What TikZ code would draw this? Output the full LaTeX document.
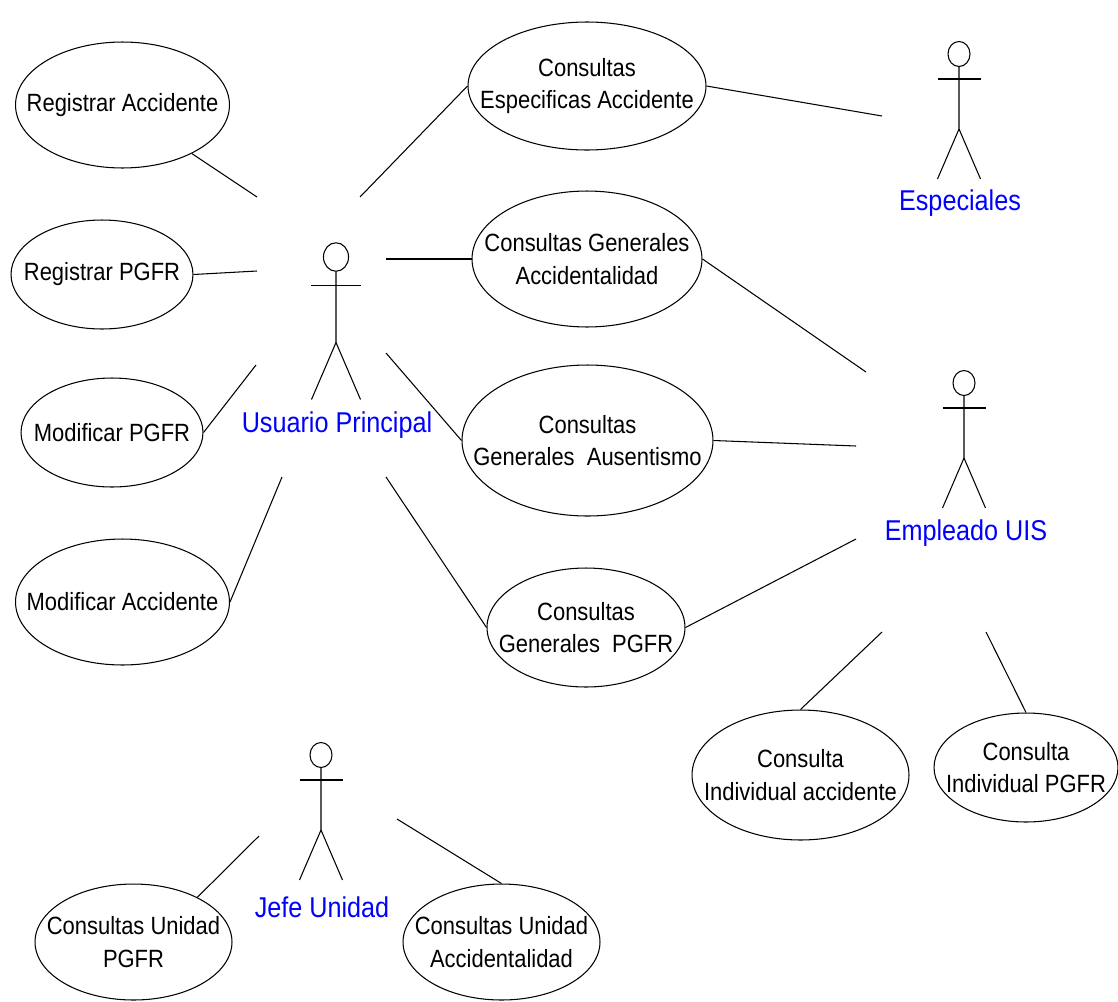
\documentclass[tikz,border=0pt]{standalone}
\usepackage{fontspec}
\setmainfont[FakeStretch=0.88]{Liberation Sans}
\usetikzlibrary{shapes.geometric}
\definecolor{actorblue}{RGB}{0,0,255}
\tikzstyle{usecase}=[ellipse, draw=black, line width=0.6pt, inner sep=0pt, anchor=center]
\tikzstyle{casetext}=[align=center, inner sep=0pt, font=\fontsize{14.2}{18.5}\selectfont]
\tikzstyle{actorlabel}=[text=actorblue, inner sep=0pt, font=\fontsize{16.3}{19}\selectfont]
\tikzstyle{assoc}=[line width=0.6pt]
\newcommand{\usecase}[6]
{
  \node[usecase, minimum width=#4, minimum height=#5](#1) at (#2,#3){};
  \node[casetext](#1-txt) at (#1.center){#6};
}
\newcommand{\drawactor}[4]
{
  \begin{scope}[shift={(#2,#3)}, scale=#4, line width=0.6pt]
    \coordinate (#1) at (0,0);
    \draw (0,0) circle[x radius=11, y radius=12.5];
    \draw (-21.5,25) -- (21.5,25);
    \draw (0,12.5) -- (0,75) -- (-21.5,125);
    \draw (0,75) -- (21.5,125);
  \end{scope}
}

\begin{document}
\begin{tikzpicture}[x=0.02cm, y=-0.02cm]
	\useasboundingbox (0,0) rectangle (1118,1001);

	% casos de uso
	\usecase{ra}{122.5}{105}{4.28cm}{2.52cm}{Registrar Accidente}
	\usecase{rp}{102}{274.5}{3.64cm}{2.18cm}{Registrar PGFR}
	\usecase{mp}{112}{432.5}{3.64cm}{2.18cm}{Modificar PGFR}
	\usecase{ma}{122.5}{602}{4.28cm}{2.52cm}{Modificar Accidente}
	\usecase{cea}{587}{86}{4.76cm}{2.56cm}{Consultas\\Especificas Accidente}
	\usecase{cga}{587}{259}{4.6cm}{2.72cm}{Consultas Generales\\Accidentalidad}
	\usecase{cgau}{587.5}{440.5}{5.02cm}{3.02cm}{Consultas\\Generales~~Ausentismo}
	\usecase{cgp}{586}{627.5}{3.96cm}{2.38cm}{Consultas\\Generales~~PGFR}
	\usecase{cia}{800.5}{775}{4.34cm}{2.6cm}{Consulta\\Individual accidente}
	\usecase{cip}{1026}{767.5}{3.68cm}{2.18cm}{Consulta\\Individual PGFR}
	\usecase{cup}{133.5}{942}{3.94cm}{2.32cm}{Consultas Unidad\\PGFR}
	\usecase{cuac}{501.5}{942}{3.94cm}{2.32cm}{Consultas Unidad\\Accidentalidad}

	% actores
	\drawactor{usuario}{336}{257}{1.14}
	\node[actorlabel](usuario-lbl) at (337,425){Usuario Principal};
	\drawactor{especiales}{959}{54}{1}
	\node[actorlabel](especiales-lbl) at (960,203){Especiales};
	\drawactor{empleado}{964}{383}{1}
	\node[actorlabel](empleado-lbl) at (966,533){Empleado UIS};
	\drawactor{jefe}{321}{755}{1}
	\node[actorlabel](jefe-lbl) at (322,907){Jefe Unidad};

	% extremos libres junto a los actores
	\coordinate (u-ra) at (257,197);
	\coordinate (u-rp) at (257,271);
	\coordinate (u-mp) at (256,365);
	\coordinate (u-ma) at (282,477);
	\coordinate (u-cea) at (360,197);
	\coordinate (u-cga) at (386,259);
	\coordinate (u-cgau) at (386,353);
	\coordinate (u-cgp) at (386,477);
	\coordinate (es-cea) at (882,116);
	\coordinate (em-cga) at (866,372);
	\coordinate (em-cgau) at (856,446);
	\coordinate (em-cgp) at (856,539);
	\coordinate (em-cia) at (882,632);
	\coordinate (em-cip) at (986,632);
	\coordinate (je-cup) at (259,836);
	\coordinate (je-cuac) at (397,819);

	\draw[assoc] (ra.-35) -- (u-ra);
	\draw[assoc] (rp.east) -- (u-rp);
	\draw[assoc] (mp.east) -- (u-mp);
	\draw[assoc] (ma.east) -- (u-ma);
	\draw[assoc] (cea.west) -- (u-cea);
	\draw[assoc] (cga.west) -- (u-cga);
	\draw[assoc] (cgau.west) -- (u-cgau);
	\draw[assoc] (cgp.west) -- (u-cgp);
	\draw[assoc] (cea.east) -- (es-cea);
	\draw[assoc] (cga.east) -- (em-cga);
	\draw[assoc] (cgau.east) -- (em-cgau);
	\draw[assoc] (cgp.east) -- (em-cgp);
	\draw[assoc] (cia.north) -- (em-cia);
	\draw[assoc] (cip.north) -- (em-cip);
	\draw[assoc] (cup.35) -- (je-cup);
	\draw[assoc] (cuac.north) -- (je-cuac);

\end{tikzpicture}
\end{document}
